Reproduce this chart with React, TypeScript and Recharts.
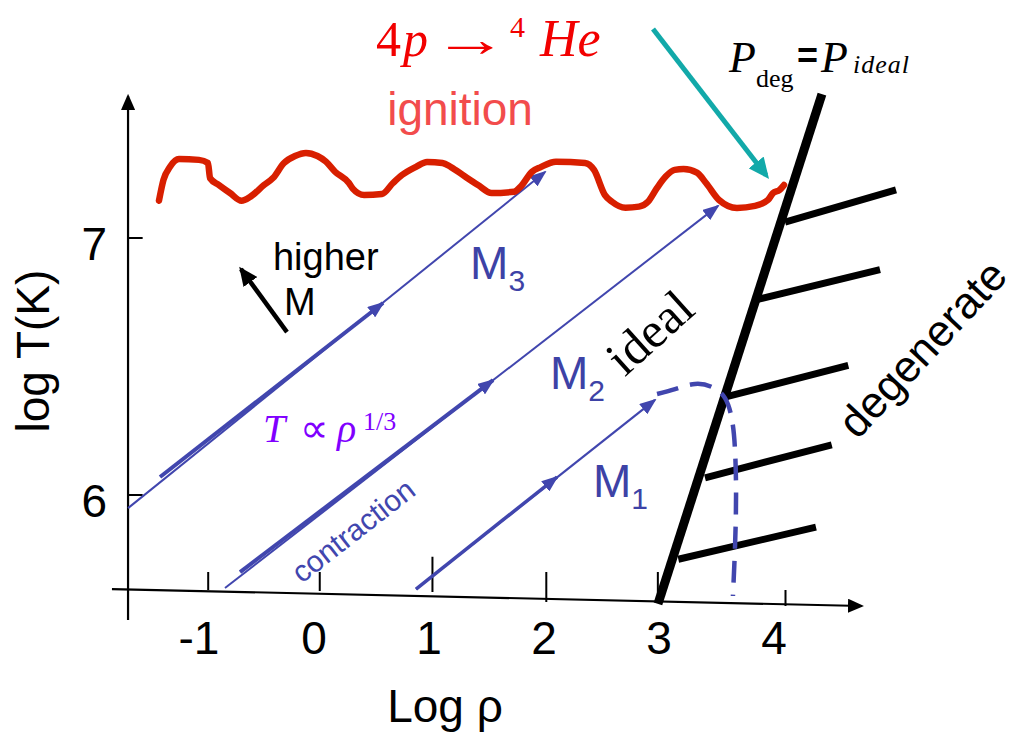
import React from 'react';
import { LineChart, Line, XAxis, YAxis, ReferenceDot } from 'recharts';

type Pt = { x: number; y: number | null };

const SANS = '"Liberation Sans", Arial, sans-serif';
const SERIF = '"Liberation Serif", "Times New Roman", serif';
const BLUE = '#4146ae';
const BLUE_TEXT = '#3d42a6';
const RED_CURVE = '#d81f00';
const RED_TEXT = '#f20000';
const IGNITION = '#f24c4c';
const TEAL = '#12a9a9';
const PURPLE = '#8000ff';

// axes (log rho, log T)
const xTickValues = [-1, 0, 1, 2, 3, 4];
const xTickLabels = ['-1', '0', '1', '2', '3', '4'];
const yTickValues = [6, 7];
const yTickLabels = ['6', '7'];

// hand drawn tick marks, where they really sit on the sketch
const xTickMarkAt = [-0.92, 0.05, 1.03, 2.02, 2.99, 4.1];
const xTickMarkTop = [5.7, 5.7, 5.76, 5.7, 5.7, 5.63];
const xTickMarkBottom = [5.63, 5.626, 5.623, 5.584, 5.58, 5.568];

const yAxisLine: Pt[] = [
  { x: -1.617, y: 5.514 },
  { x: -1.617, y: 7.553 },
];
const xAxisLine: Pt[] = [
  { x: -1.757, y: 5.634 },
  { x: 4.765, y: 5.568 },
];

// hydrogen ignition curve
const ignition: Pt[] = [
  { x: -1.348, y: 7.145 }, { x: -1.309, y: 7.226 }, { x: -1.252, y: 7.277 },
  { x: -1.174, y: 7.307 }, { x: -1.0, y: 7.304 }, { x: -0.922, y: 7.292 },
  { x: -0.904, y: 7.233 }, { x: -0.826, y: 7.206 }, { x: -0.73, y: 7.175 },
  { x: -0.63, y: 7.145 }, { x: -0.552, y: 7.161 }, { x: -0.435, y: 7.206 },
  { x: -0.357, y: 7.233 }, { x: -0.261, y: 7.292 }, { x: -0.165, y: 7.319 },
  { x: -0.07, y: 7.331 }, { x: 0.03, y: 7.319 }, { x: 0.104, y: 7.297 },
  { x: 0.183, y: 7.258 }, { x: 0.304, y: 7.214 }, { x: 0.339, y: 7.191 },
  { x: 0.435, y: 7.167 }, { x: 0.591, y: 7.171 }, { x: 0.687, y: 7.214 },
  { x: 0.765, y: 7.245 }, { x: 0.887, y: 7.277 }, { x: 0.983, y: 7.296 },
  { x: 1.117, y: 7.292 }, { x: 1.191, y: 7.276 }, { x: 1.313, y: 7.239 },
  { x: 1.426, y: 7.206 }, { x: 1.544, y: 7.175 }, { x: 1.739, y: 7.18 },
  { x: 1.797, y: 7.2 }, { x: 1.896, y: 7.258 }, { x: 1.971, y: 7.276 },
  { x: 2.104, y: 7.297 }, { x: 2.357, y: 7.292 }, { x: 2.435, y: 7.265 },
  { x: 2.53, y: 7.167 }, { x: 2.591, y: 7.141 }, { x: 2.709, y: 7.118 },
  { x: 2.826, y: 7.122 }, { x: 2.904, y: 7.141 }, { x: 2.983, y: 7.195 },
  { x: 3.058, y: 7.239 }, { x: 3.136, y: 7.265 }, { x: 3.214, y: 7.268 },
  { x: 3.33, y: 7.254 }, { x: 3.409, y: 7.214 }, { x: 3.522, y: 7.148 },
  { x: 3.678, y: 7.117 }, { x: 3.835, y: 7.125 }, { x: 3.948, y: 7.148 },
  { x: 3.991, y: 7.175 }, { x: 4.048, y: 7.187 }, { x: 4.087, y: 7.206 },
];

// contraction tracks, T ~ rho^(1/3)
const m3Track: Pt[] = [{ x: -1.617, y: 5.949 }, { x: 2.009, y: 7.257 }];
const m3Early: Pt[] = [{ x: -1.339, y: 6.07 }, { x: 0.6, y: 6.747 }];
const m2Track: Pt[] = [{ x: -0.774, y: 5.638 }, { x: 3.513, y: 7.125 }];
const m2Early: Pt[] = [{ x: -0.643, y: 5.7 }, { x: 1.557, y: 6.447 }];
const m1Track: Pt[] = [{ x: 0.887, y: 5.634 }, { x: 2.965, y: 6.37 }];
const m1Early: Pt[] = [{ x: 0.887, y: 5.634 }, { x: 2.113, y: 6.07 }];

// low mass star turning over into degeneracy
const m1Turn: Pt[] = [
  { x: 2.983, y: 6.393 }, { x: 3.139, y: 6.412 }, { x: 3.313, y: 6.432 },
  { x: 3.461, y: 6.42 }, { x: 3.574, y: 6.377 }, { x: 3.635, y: 6.292 },
  { x: 3.661, y: 6.175 }, { x: 3.67, y: 6.0 }, { x: 3.661, y: 5.798 },
  { x: 3.643, y: 5.607 },
];

// P_deg = P_ideal boundary and its hatching
const degLine: Pt[] = [{ x: 2.991, y: 5.576 }, { x: 4.417, y: 7.56 }];
const hatches: Pt[][] = [
  [{ x: 4.096, y: 7.062 }, { x: 5.061, y: 7.187 }],
  [{ x: 3.85, y: 6.76 }, { x: 4.922, y: 6.877 }],
  [{ x: 3.589, y: 6.383 }, { x: 4.646, y: 6.504 }],
  [{ x: 3.4, y: 6.067 }, { x: 4.502, y: 6.195 }],
  [{ x: 3.168, y: 5.75 }, { x: 4.365, y: 5.875 }],
];

const tealPointer: Pt[] = [{ x: 2.948, y: 7.813 }, { x: 3.93, y: 7.245 }];
const higherMass: Pt[] = [{ x: -0.235, y: 6.634 }, { x: -0.635, y: 6.879 }];

const joinSegments = (segs: Pt[][]): Pt[] =>
  segs.flatMap((s, i) => (i ? [{ x: s[0].x, y: null }, ...s] : s));

const xTickMarks = joinSegments(
  xTickMarkAt.map((x, i) => [
    { x, y: xTickMarkTop[i] },
    { x, y: xTickMarkBottom[i] },
  ])
);
const yTickMarks = joinSegments(
  yTickValues.map((y) => [
    { x: -1.617, y },
    { x: -1.49, y },
  ])
);

const W = 1027;
const H = 732;

const at = (
  key: string,
  x: number,
  y: number,
  draw: (cx: number, cy: number) => React.ReactElement
) => (
  <ReferenceDot
    key={key}
    x={x}
    y={y}
    r={0}
    ifOverflow="visible"
    shape={(p: any) => draw(p.cx, p.cy)}
  />
);

const seg = (
  key: string,
  data: Pt[],
  stroke: string,
  width: number,
  extra: Record<string, any> = {}
) => (
  <Line
    key={key}
    data={data}
    dataKey="y"
    type="linear"
    stroke={stroke}
    strokeWidth={width}
    dot={false}
    activeDot={false}
    legendType="none"
    isAnimationActive={false}
    {...extra}
  />
);

const marker = (id: string, color: string, len: number, wid: number, ref: number) => (
  <marker
    id={id}
    viewBox={`0 0 ${len} ${wid}`}
    refX={ref}
    refY={wid / 2}
    markerWidth={len}
    markerHeight={wid}
    markerUnits="userSpaceOnUse"
    orient="auto"
  >
    <path d={`M0,0L${len},${wid / 2}L0,${wid}z`} fill={color} />
  </marker>
);

export default function App() {
  return (
    <div style={{ position: 'absolute', left: 0, top: 0, width: W, height: H, background: '#fff' }}>
      <LineChart
        width={W}
        height={H}
        margin={{ top: 6.7, right: 11.5, bottom: 5.7, left: 15 }}
      >
        <defs>
          {marker('tipBlue', BLUE, 17, 13, 15)}
          {marker('tipBlack', '#000', 16, 14, 14)}
          {marker('tipBlackBig', '#000', 19, 17, 16)}
          {marker('tipTeal', TEAL, 21, 19, 16)}
        </defs>
        <XAxis type="number" dataKey="x" domain={[-2.6, 6.1]} hide />
        <YAxis type="number" domain={[5.1, 7.9]} hide />

        {seg('yaxis', yAxisLine, '#000', 2.2, { markerEnd: 'url(#tipBlack)' })}
        {seg('xaxis', xAxisLine, '#000', 2.2, { markerEnd: 'url(#tipBlack)' })}
        {seg('xticks', xTickMarks, '#000', 2)}
        {seg('yticks', yTickMarks, '#000', 2)}

        {seg('m3', m3Track, BLUE, 2, { markerEnd: 'url(#tipBlue)' })}
        {seg('m3e', m3Early, BLUE, 4, { markerEnd: 'url(#tipBlue)' })}
        {seg('m2', m2Track, BLUE, 2, { markerEnd: 'url(#tipBlue)' })}
        {seg('m2e', m2Early, BLUE, 4, { markerEnd: 'url(#tipBlue)' })}
        {seg('m1', m1Track, BLUE, 2.2, { markerEnd: 'url(#tipBlue)' })}
        {seg('m1e', m1Early, BLUE, 3.5, { markerEnd: 'url(#tipBlue)' })}

        {seg('deg', degLine, '#000', 9)}
        {seg('hatch', joinSegments(hatches), '#000', 7)}

        {seg('turn', m1Turn, BLUE, 4.5, { type: 'natural', strokeDasharray: '22 12' })}

        {seg('ign', ignition, RED_CURVE, 6.5, { type: 'monotone', strokeLinejoin: 'round', strokeLinecap: 'round' })}

        {seg('teal', tealPointer, TEAL, 5, { markerEnd: 'url(#tipTeal)' })}
        {seg('higher', higherMass, '#000', 4.5, { markerEnd: 'url(#tipBlackBig)' })}

        {xTickValues.map((v, i) =>
          at(`xl${i}`, v, 5.38, (cx, cy) => (
            <text x={cx} y={cy} textAnchor="middle" fontFamily={SANS} fontSize={46} fill="#000">
              {xTickLabels[i]}
            </text>
          ))
        )}
        {yTickValues.map((v, i) =>
          at(`yl${i}`, -1.8, v, (cx, cy) => (
            <text x={cx} y={cy + 22} textAnchor="end" fontFamily={SANS} fontSize={46} fill="#000">
              {yTickLabels[i]}
            </text>
          ))
        )}

        {at('ylab', -2.304, 6.56, (cx, cy) => (
          <text transform={`translate(${cx},${cy}) rotate(-90)`} textAnchor="middle" fontFamily={SANS} fontSize={46} fill="#000">
            log T(K)
          </text>
        ))}
        {at('xlab', 1.139, 5.117, (cx, cy) => (
          <text x={cx} y={cy} textAnchor="middle" fontFamily={SANS} fontSize={46} fill="#000">
            Log ρ
          </text>
        ))}

        {at('reaction', 0.539, 7.708, (cx, cy) => (
          <g transform={`translate(${cx},${cy})`} fill={RED_TEXT} fontFamily={SERIF} fontSize={50}>
            <text x={0} y={0}>4</text>
            <text x={27} y={0} fontStyle="italic">p</text>
            <text transform="translate(57,0) scale(1.5,1)">→</text>
            <text x={134} y={-19} fontSize={30}>4</text>
            <text x={164} y={0} fontSize={52} fontStyle="italic">He</text>
          </g>
        ))}
        {at('ignite', 1.27, 7.44, (cx, cy) => (
          <text x={cx} y={cy} textAnchor="middle" fontFamily={SANS} fontSize={46} fill={IGNITION}>
            ignition
          </text>
        ))}

        {at('pdeg', 3.609, 7.646, (cx, cy) => (
          <g transform={`translate(${cx},${cy})`} fill="#000" fontFamily={SERIF}>
            <text x={0} y={0} fontSize={44} fontStyle="italic">P</text>
            <text x={27} y={15} fontSize={26}>deg</text>
            <text x={68} y={-4} fontSize={36} fontFamily={SANS} fontWeight="bold">=</text>
            <text x={92} y={0} fontSize={44} fontStyle="italic">P</text>
            <text x={124} y={1} fontSize={26} fontStyle="italic" letterSpacing={1}>
              ideal
            </text>
          </g>
        ))}

        {at('higherTxt', -0.357, 6.875, (cx, cy) => (
          <text x={cx} y={cy} fontFamily={SANS} fontSize={38} fill="#000">higher</text>
        ))}
        {at('higherM', -0.261, 6.7, (cx, cy) => (
          <text x={cx} y={cy} fontFamily={SANS} fontSize={38} fill="#000">M</text>
        ))}

        {[
          { k: 'M3', x: 1.357, y: 6.84, sub: '3' },
          { k: 'M2', x: 2.052, y: 6.412, sub: '2' },
          { k: 'M1', x: 2.426, y: 5.992, sub: '1' },
        ].map((m) =>
          at(m.k, m.x, m.y, (cx, cy) => (
            <text x={cx} y={cy} fontFamily={SANS} fontSize={46} fill={BLUE_TEXT}>
              M<tspan fontSize={30} dy={12}>{m.sub}</tspan>
            </text>
          ))
        )}

        {at('ideal', 3.017, 6.584, (cx, cy) => (
          <text transform={`translate(${cx},${cy}) rotate(-42)`} textAnchor="middle" fontFamily={SERIF} fontSize={50} fill="#000">
            ideal
          </text>
        ))}

        {at('law', -0.443, 6.206, (cx, cy) => (
          <g transform={`translate(${cx},${cy})`} fill={PURPLE} fontFamily={SERIF} fontSize={40}>
            <text x={0} y={0} fontStyle="italic">T</text>
            <text x={37} y={0}>∝</text>
            <text x={74} y={0} fontStyle="italic">ρ</text>
            <text x={100} y={-12} fontSize={26}>1/3</text>
          </g>
        ))}

        {at('contraction', 0.396, 5.829, (cx, cy) => (
          <text transform={`translate(${cx},${cy}) rotate(-38)`} textAnchor="middle" fontFamily={SANS} fontSize={30} fill={BLUE}>
            contraction
          </text>
        ))}

        {at('degenerate', 5.387, 6.529, (cx, cy) => (
          <text transform={`translate(${cx},${cy}) rotate(-47)`} textAnchor="middle" fontFamily={SANS} fontSize={44} fill="#000">
            degenerate
          </text>
        ))}
      </LineChart>
    </div>
  );
}
